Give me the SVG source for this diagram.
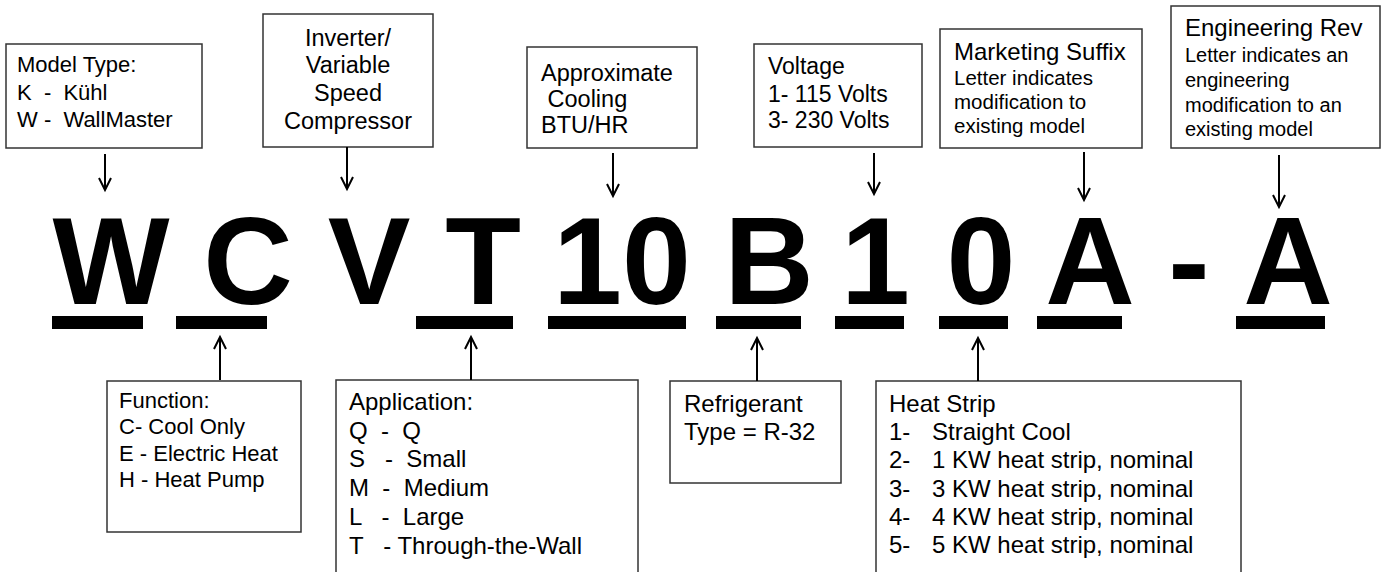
<svg xmlns="http://www.w3.org/2000/svg" width="1382" height="572" viewBox="0 0 1382 572">
<defs>
<style>
.box{fill:#fff;stroke:#333;stroke-width:1.5}
.t{font-family:"Liberation Sans",Arial,sans-serif;fill:#000}
.big{font-family:"Liberation Sans",Arial,sans-serif;font-weight:bold;font-size:124px;fill:#000}
.bar{fill:#000}
.arr{stroke:#000;stroke-width:2;fill:none;marker-end:url(#ah)}
</style>
<marker id="ah" viewBox="0 0 14 14" refX="12" refY="7" markerWidth="14" markerHeight="14" markerUnits="userSpaceOnUse" orient="auto" overflow="visible">
<path d="M0,1 L12,7 L0,13" fill="none" stroke="#000" stroke-width="2"/>
</marker>
</defs>
<rect width="1382" height="572" fill="#fff"/>

<g id="model-type">
<rect class="box" x="6" y="44" width="196" height="104"/>
<text class="t" font-size="22" xml:space="preserve"><tspan x="17" y="72">Model Type:</tspan><tspan x="17" y="100">K  -  Kühl</tspan><tspan x="17" y="127">W -  WallMaster</tspan></text>
</g>
<g id="inverter">
<rect class="box" x="263" y="14" width="170" height="133"/>
<text class="t" font-size="23.5" text-anchor="middle"><tspan x="348" y="46">Inverter/</tspan><tspan x="348" y="73">Variable</tspan><tspan x="348" y="101">Speed</tspan><tspan x="348" y="129">Compressor</tspan></text>
</g>
<g id="cooling">
<rect class="box" x="527" y="47" width="170" height="101"/>
<text class="t" font-size="23.5" xml:space="preserve"><tspan x="541" y="81">Approximate</tspan><tspan x="541" y="107"> Cooling</tspan><tspan x="541" y="133">BTU/HR</tspan></text>
</g>
<g id="voltage">
<rect class="box" x="754" y="44" width="168" height="103"/>
<text class="t" font-size="23"><tspan x="768" y="74">Voltage</tspan><tspan x="768" y="102">1- 115 Volts</tspan><tspan x="768" y="128">3- 230 Volts</tspan></text>
</g>
<g id="marketing">
<rect class="box" x="940" y="29" width="202" height="119"/>
<text class="t" font-size="24" x="954" y="60">Marketing Suffix</text>
<text class="t" font-size="20.5"><tspan x="954" y="85">Letter indicates</tspan><tspan x="954" y="109">modification to</tspan><tspan x="954" y="133">existing model</tspan></text>
</g>
<g id="engineering">
<rect class="box" x="1171" y="6" width="209" height="142"/>
<text class="t" font-size="24" x="1185" y="36">Engineering Rev</text>
<text class="t" font-size="20"><tspan x="1185" y="62">Letter indicates an</tspan><tspan x="1185" y="87">engineering</tspan><tspan x="1185" y="112">modification to an</tspan><tspan x="1185" y="136">existing model</tspan></text>
</g>

<g id="code">
<text class="big" x="111" y="304" text-anchor="middle">W</text>
<text class="big" x="248" y="304" text-anchor="middle">C</text>
<text class="big" x="369" y="304" text-anchor="middle">V</text>
<text class="big" x="483" y="304" text-anchor="middle">T</text>
<text class="big" x="553" y="304">10</text>
<text class="big" x="769" y="304" text-anchor="middle">B</text>
<text class="big" x="841" y="304">1</text>
<text class="big" x="981" y="304" text-anchor="middle">0</text>
<text class="big" x="1090" y="304" text-anchor="middle">A</text>
<text class="big" x="1189" y="304" text-anchor="middle">-</text>
<text class="big" x="1288" y="304" text-anchor="middle">A</text>
<rect class="bar" x="52" y="316" width="91" height="13"/>
<rect class="bar" x="176" y="316" width="91" height="13"/>
<rect class="bar" x="416" y="316" width="97" height="13"/>
<rect class="bar" x="548" y="316" width="138" height="13"/>
<rect class="bar" x="716" y="316" width="85" height="13"/>
<rect class="bar" x="835" y="316" width="69" height="13"/>
<rect class="bar" x="939" y="316" width="69" height="13"/>
<rect class="bar" x="1037" y="316" width="85" height="13"/>
<rect class="bar" x="1236" y="316" width="89" height="13"/>
</g>

<g id="function">
<rect class="box" x="107" y="381" width="194" height="151"/>
<text class="t" font-size="22"><tspan x="119" y="408">Function:</tspan><tspan x="119" y="434">C- Cool Only</tspan><tspan x="119" y="461">E - Electric Heat</tspan><tspan x="119" y="487">H - Heat Pump</tspan></text>
</g>
<g id="application">
<rect class="box" x="336" y="380" width="302" height="210"/>
<text class="t" font-size="24" xml:space="preserve"><tspan x="349" y="410">Application:</tspan><tspan x="349" y="439">Q  -  Q</tspan><tspan x="349" y="467">S   -  Small</tspan><tspan x="349" y="496">M  -  Medium</tspan><tspan x="349" y="525">L   -  Large</tspan><tspan x="349" y="554">T   - Through-the-Wall</tspan></text>
</g>
<g id="refrigerant">
<rect class="box" x="670" y="381" width="171" height="102"/>
<text class="t" font-size="24"><tspan x="684" y="412">Refrigerant</tspan><tspan x="684" y="440">Type = R-32</tspan></text>
</g>
<g id="heat-strip">
<rect class="box" x="876" y="381" width="365" height="210"/>
<text class="t" font-size="24"><tspan x="889" y="412">Heat Strip</tspan><tspan x="889" y="440">1-</tspan><tspan x="932" y="440">Straight Cool</tspan><tspan x="889" y="468">2-</tspan><tspan x="932" y="468">1 KW heat strip, nominal</tspan><tspan x="889" y="497">3-</tspan><tspan x="932" y="497">3 KW heat strip, nominal</tspan><tspan x="889" y="525">4-</tspan><tspan x="932" y="525">4 KW heat strip, nominal</tspan><tspan x="889" y="553">5-</tspan><tspan x="932" y="553">5 KW heat strip, nominal</tspan></text>
</g>

<g id="connectors">
<path class="arr" d="M105,154 V190"/>
<path class="arr" d="M347,147 V189"/>
<path class="arr" d="M613,153 V196"/>
<path class="arr" d="M874,153 V194"/>
<path class="arr" d="M1084,152 V200"/>
<path class="arr" d="M1279,155 V207"/>
<path class="arr" d="M220,380 V337"/>
<path class="arr" d="M471,380 V337"/>
<path class="arr" d="M757,381 V338"/>
<path class="arr" d="M978,381 V338"/>
</g>
</svg>
